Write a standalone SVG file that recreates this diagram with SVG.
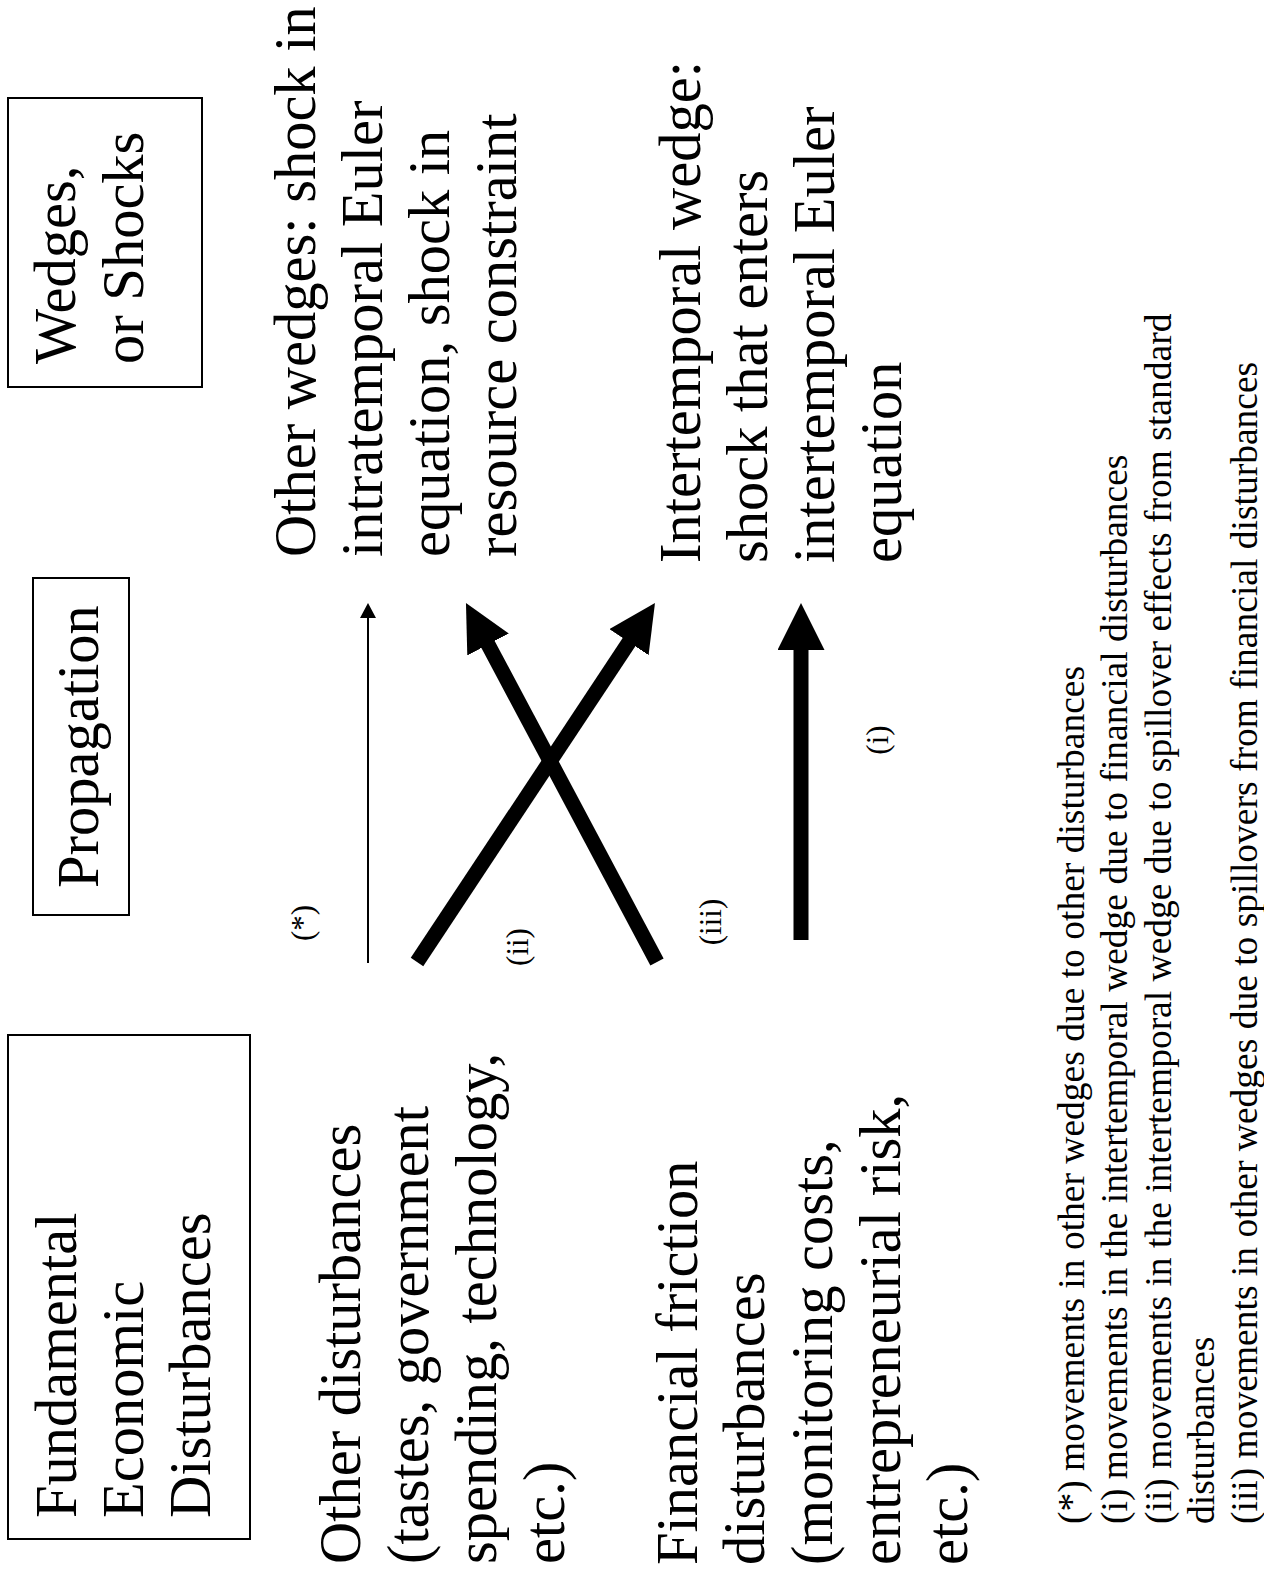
<svg xmlns="http://www.w3.org/2000/svg" width="1264" height="1581" viewBox="0 0 1264 1581">
  <style>
    .t { font-family: "Liberation Serif", "Times New Roman", serif; font-size: 58.5px; fill: #000; }
    .fn { font-family: "Liberation Serif", "Times New Roman", serif; font-size: 37.5px; fill: #000; }
    .lb { font-family: "Liberation Serif", "Times New Roman", serif; font-size: 31px; fill: #000; text-anchor: middle; }
    .box { fill: none; stroke: #000; stroke-width: 2; }
    .thick { stroke: #000; stroke-width: 15; fill: none; stroke-linecap: butt; }
    .thin { stroke: #000; stroke-width: 2; fill: none; }
  </style>
  <defs>
    <marker id="headBig" markerUnits="userSpaceOnUse" markerWidth="48" markerHeight="48" viewBox="0 0 48 48" refX="2" refY="23.5" orient="auto">
      <path d="M0,0 L47,23.5 L0,47 Z" fill="#000"/>
    </marker>
    <marker id="headSmall" markerUnits="userSpaceOnUse" markerWidth="16" markerHeight="16" viewBox="0 0 16 16" refX="1" refY="8" orient="auto">
      <path d="M0,0 L15,8 L0,16 Z" fill="#000"/>
    </marker>
  </defs>
  <rect x="0" y="0" width="1264" height="1581" fill="#fff"/>

  <g transform="matrix(0,-1,1,0,0,1581)">
    <g id="node-fundamental">
      <rect class="box" x="42" y="8" width="504" height="242"/>
      <text class="t"><tspan x="63" y="76">Fundamental</tspan><tspan x="63" y="143">Economic</tspan><tspan x="63" y="210">Disturbances</tspan></text>
    </g>
    <g id="node-other-disturbances">
      <text class="t"><tspan x="17" y="360">Other disturbances</tspan><tspan x="17" y="428">(tastes, government</tspan><tspan x="17" y="496">spending, technology,</tspan><tspan x="17" y="564">etc.)</tspan></text>
    </g>
    <g id="node-financial-disturbances">
      <text class="t"><tspan x="16" y="697">Financial friction</tspan><tspan x="16" y="764">disturbances</tspan><tspan x="16" y="832">(monitoring costs,</tspan><tspan x="16" y="900">entrepreneurial risk,</tspan><tspan x="16" y="967">etc.)</tspan></text>
    </g>
    <g id="node-propagation">
      <rect class="box" x="666" y="33" width="337" height="96"/>
      <text class="t" x="693" y="98">Propagation</text>
    </g>
    <g id="node-wedges">
      <rect class="box" x="1194" y="8" width="289" height="194"/>
      <text class="t"><tspan x="1217" y="75">Wedges,</tspan><tspan x="1217" y="143">or Shocks</tspan></text>
    </g>
    <g id="node-other-wedges">
      <text class="t"><tspan x="1024" y="315">Other wedges: shock in</tspan><tspan x="1024" y="382">intratemporal Euler</tspan><tspan x="1024" y="449">equation, shock in</tspan><tspan x="1024" y="516">resource constraint</tspan></text>
    </g>
    <g id="node-intertemporal-wedge">
      <text class="t"><tspan x="1018" y="700">Intertemporal wedge:</tspan><tspan x="1018" y="767">shock that enters</tspan><tspan x="1018" y="834">intertemporal Euler</tspan><tspan x="1018" y="901">equation</tspan></text>
    </g>
    <g id="labels">
      <text class="lb" x="658" y="313">(*)</text>
      <text class="lb" x="634" y="528">(ii)</text>
      <text class="lb" x="659" y="721">(iii)</text>
      <text class="lb" x="841" y="888">(i)</text>
    </g>
    <g id="footnotes">
      <text class="fn"><tspan x="57" y="1084">(*) movements in other wedges due to other disturbances</tspan><tspan x="57" y="1127">(i) movements in the intertemporal wedge due to financial disturbances</tspan><tspan x="57" y="1171">(ii) movements in the intertemporal wedge due to spillover effects from standard</tspan><tspan x="57" y="1214">disturbances</tspan><tspan x="57" y="1257">(iii) movements in other wedges due to spillovers from financial disturbances</tspan></text>
    </g>
  </g>

  <g id="connectors">
    <line class="thin" x1="368" y1="963" x2="368" y2="617" marker-end="url(#headSmall)"/>
    <line class="thick" x1="417" y1="962" x2="630.1" y2="640.5" marker-end="url(#headBig)"/>
    <line class="thick" x1="657" y1="962" x2="487.1" y2="642.7" marker-end="url(#headBig)"/>
    <line class="thick" x1="801" y1="940" x2="801" y2="648" marker-end="url(#headBig)"/>
  </g>
</svg>
